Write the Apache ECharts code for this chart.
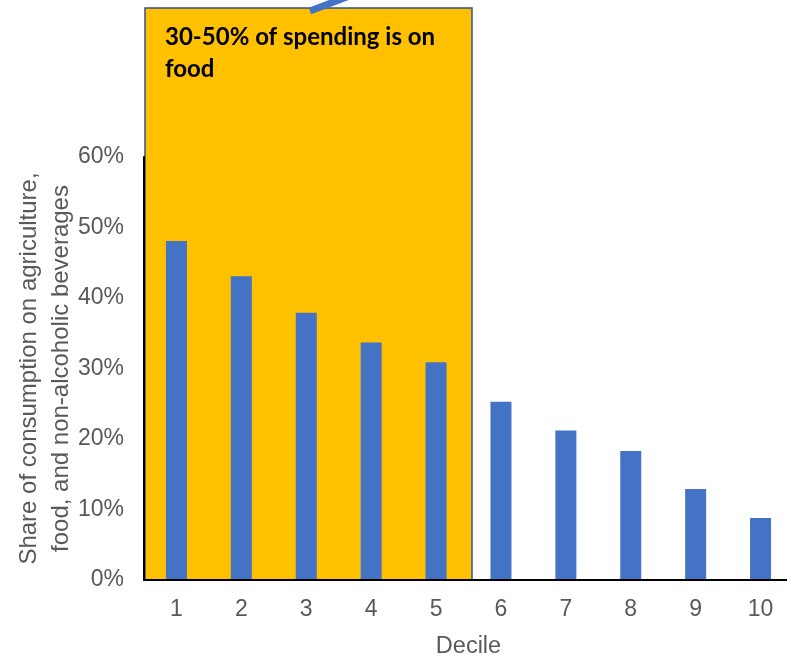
<!DOCTYPE html>
<html><head><meta charset="utf-8">
<script src="https://cdn.jsdelivr.net/npm/echarts@6/dist/echarts.min.js"></script>
<style>html,body{margin:0;padding:0;background:#fff}#c{width:787px;height:657px}</style>
</head><body><div id="c"></div>
<script>
const categories = ['1','2','3','4','5','6','7','8','9','10'];
const shareValues = [48.1, 43.1, 37.9, 33.7, 30.9, 25.3, 21.2, 18.3, 12.9, 8.8];
const yTicks = [0, 10, 20, 30, 40, 50, 60];
const annotationText = ['30-50% of spending is on', 'food'];

const chart = echarts.init(document.getElementById('c'));
const font = '"Liberation Sans", Arial, sans-serif';
chart.setOption({
  animation: false,
  grid: { left: 144, right: -6, top: 157, bottom: 77, containLabel: false, outerBoundsMode: 'none' },
  xAxis: {
    type: 'category', data: categories, z: 10,
    axisLine: { lineStyle: { color: '#000', width: 2 } },
    axisTick: { show: false },
    axisLabel: { color: '#595959', fontSize: 23, fontFamily: font, margin: 18 },
    name: 'Decile', nameLocation: 'middle', nameGap: 55, nameMoveOverlap: false,
    nameTextStyle: { color: '#595959', fontSize: 23.5, fontFamily: font }
  },
  yAxis: {
    type: 'value', min: yTicks[0], max: yTicks[yTicks.length-1], interval: 10, z: 10,
    axisLine: { show: true, lineStyle: { color: '#000', width: 2 } },
    axisTick: { show: false },
    splitLine: { show: false },
    axisLabel: { color: '#595959', fontSize: 23, fontFamily: font, margin: 20, formatter: v => v + '%' },
    name: 'Share of consumption on agriculture,\nfood, and non-alcoholic beverages',
    nameLocation: 'middle', nameGap: 67, nameMoveOverlap: false,
    nameTextStyle: { color: '#595959', fontSize: 24, fontFamily: font, lineHeight: 32 }
  },
  series: [{
    type: 'bar', data: shareValues, barWidth: 21, z: 5,
    itemStyle: { color: '#4472C4' }
  }],
  graphic: [
    { type: 'rect', z: 1, shape: { x: 145, y: 8, width: 327, height: 572 },
      style: { fill: '#FFC000', stroke: '#2F528F', lineWidth: 1.5 } },
    { type: 'line', z: 1, shape: { x1: 310, y1: 11, x2: 352, y2: -5 },
      style: { stroke: '#4472C4', lineWidth: 7 } },
    { type: 'text', z: 6, left: 165, top: 21,
      style: { text: annotationText.join('\n'), fill: '#000', font: 'bold 24px Lato, "Open Sans", sans-serif', lineHeight: 32 } }
  ]
});
</script></body></html>
